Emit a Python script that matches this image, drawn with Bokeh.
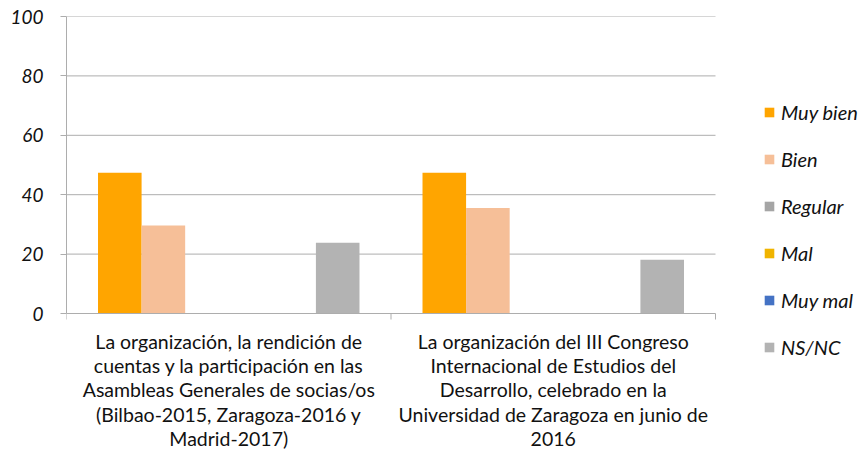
from bokeh.plotting import figure
from bokeh.models import FixedTicker, Legend, LegendItem, Range1d
from bokeh.core.properties import value
from bokeh.embed import file_html
from bokeh.resources import INLINE

categories = [
    "La organización, la rendición de\ncuentas y la participación en las\nAsambleas Generales de socias/os\n(Bilbao-2015, Zaragoza-2016 y\nMadrid-2017)",
    "La organización del III Congreso\nInternacional de Estudios del\nDesarrollo, celebrado en la\nUniversidad de Zaragoza en junio de\n2016",
]
series = ["Muy bien", "Bien", "Regular", "Mal", "Muy mal", "NS/NC"]
muy_bien = [47.4, 47.4]
bien = [29.6, 35.5]
regular = [0, 0]
mal = [0, 0]
muy_mal = [0, 0]
ns_nc = [23.8, 18.1]
values = [muy_bien, bien, regular, mal, muy_mal, ns_nc]
colors = ["#FFA500", "#F6BF98", "#A5A5A5", "#F0B400", "#4472C4", "#B3B3B3"]
y_ticks = [0, 20, 40, 60, 80, 100]
cat_bounds = [0, 1, 2]

FONT = "Lato"
GRID = "#ADADAD"

# frame spans 66..864 px horizontally and 16..460 px vertically;
# the category band is 0..2 (66..715 px) and the value band 0..100 (313..16 px)
W, H = 864, 460
left, top = 66, 16
px_per_cat = 649 / 2
px_per_val = 297 / 100
x_max = (W - left) / px_per_cat
y_min = -(H - top - 297) / px_per_val

p = figure(width=W, height=H, x_range=Range1d(0, x_max), y_range=Range1d(y_min, 100),
           output_backend="svg", toolbar_location=None, x_axis_location=None,
           min_border_left=left, min_border_right=0, min_border_top=top, min_border_bottom=0)
p.outline_line_color = None
p.background_fill_color = "white"
p.border_fill_color = "white"
p.grid.grid_line_color = None

# grid lines and category axis, drawn over the category band only
n_cat = len(categories)
p.segment(x0=[0] * (len(y_ticks) - 1), x1=[n_cat] * (len(y_ticks) - 1),
          y0=y_ticks[1:], y1=y_ticks[1:], line_color=GRID, line_width=1)

bar_w = 0.1343
centers = [i + 0.5 for i in range(n_cat)]
renderers = []
for j, (name, vals, col) in enumerate(zip(series, values, colors)):
    xs = [c + (j - 2.5) * bar_w for c in centers]
    r = p.vbar(x=xs, top=vals, bottom=0, width=bar_w, fill_color=col, line_color=None)
    renderers.append(r)

tick_len = 6 / px_per_val
p.segment(x0=[0], x1=[n_cat], y0=[0], y1=[0], line_color=GRID, line_width=1)
p.segment(x0=cat_bounds, x1=cat_bounds, y0=[0] * len(cat_bounds), y1=[-tick_len] * len(cat_bounds),
          line_color=GRID, line_width=1)

p.text(x=centers, y=[0] * n_cat, text=categories, text_align="center", text_baseline="top",
       y_offset=16, text_font=value(FONT), text_font_size="19.5px", text_color="#111111",
       text_line_height=1.06)

# y axis
p.yaxis.bounds = (0, 100)
p.yaxis.ticker = FixedTicker(ticks=y_ticks)
p.yaxis.axis_line_color = GRID
p.yaxis.major_tick_line_color = GRID
p.yaxis.major_tick_out = 6
p.yaxis.major_tick_in = 0
p.yaxis.minor_tick_line_color = None
p.yaxis.major_label_text_font = FONT
p.yaxis.major_label_text_font_style = "italic"
p.yaxis.major_label_text_font_size = "19px"
p.yaxis.major_label_text_color = "#111111"
p.yaxis.major_label_standoff = 17

legend = Legend(items=[LegendItem(label=s, renderers=[r]) for s, r in zip(series, renderers)],
                location=(697, 101))
legend.glyph_width = 12
legend.glyph_height = 12
legend.label_height = 20
legend.spacing = 23
legend.padding = 0
legend.margin = 0
legend.border_line_color = None
legend.background_fill_alpha = 0
legend.label_text_font = FONT
legend.label_text_font_style = "italic"
legend.label_text_font_size = "20px"
legend.label_text_color = "#111111"
legend.label_standoff = 6
p.add_layout(legend)

open("out.html", "w").write(file_html(p, INLINE))
